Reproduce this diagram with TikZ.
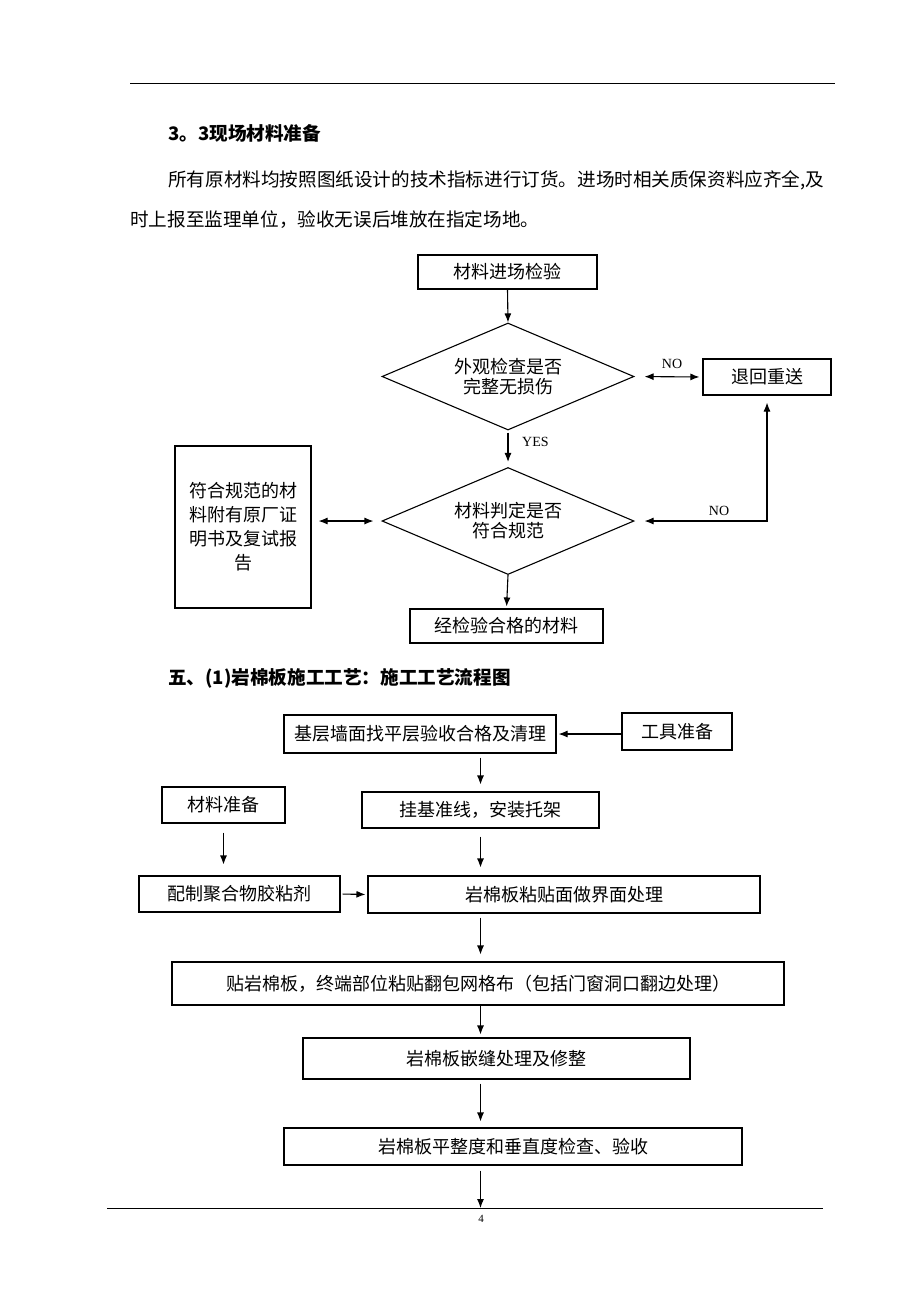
\documentclass[tikz,border=0pt]{standalone}
\usepackage{fontspec}
\setmainfont{Liberation Serif}
\newfontfamily\cjk{Noto Sans CJK SC}
\usetikzlibrary{shapes.geometric,arrows.meta}
\begin{document}
\begin{tikzpicture}[x=1pt,y=-1pt,
  box/.style={draw,line width=1.1pt,inner sep=0pt,font=\cjk\fontsize{18}{24}\selectfont,align=center},
  dia/.style={draw,line width=1.1pt,diamond,aspect=2.35,inner sep=0pt,minimum width=252pt,minimum height=107pt,font=\cjk\fontsize{18}{20}\selectfont,align=center},
  arr/.style={line width=1.1pt,-{Latex[length=9pt,width=7pt]}},
  darr/.style={line width=1.1pt,{Latex[length=9pt,width=7pt]}-{Latex[length=9pt,width=7pt]}},
  txt/.style={inner sep=0pt,anchor=west,font=\cjk\fontsize{18.6}{20}\selectfont},
  lbl/.style={inner sep=0pt,font=\fontsize{14}{16}\selectfont},
  rule/.style={line width=1pt}
]
\useasboundingbox[fill=white] (0,0) rectangle (920,1302);
% page rules
\coordinate (tl) at (130,83); \coordinate (tr) at (835,83);
\draw[rule] (tl) -- (tr);
\coordinate (bl) at (107,1208); \coordinate (br) at (823,1208);
\draw[rule] (bl) -- (br);
\node[inner sep=0pt,font=\fontsize{11}{12}\selectfont] (pg) at (481,1219) {4};

% text
\node[txt,font=\cjk\bfseries\fontsize{18.6}{20}\selectfont] (h1) at (168,133) {3。3现场材料准备};
\node[txt] (p1) at (168,180) {所有原材料均按照图纸设计的技术指标进行订货。进场时相关质保资料应齐全,及};
\node[txt] (p2) at (130,220) {时上报至监理单位，验收无误后堆放在指定场地。};

% chart 1
\node[box,minimum width=179pt,minimum height=34pt] (b1) at (507.5,272) {材料进场检验};
\node[dia] (d1) at (508,376.5) {外观检查是否\\完整无损伤};
\node[box,minimum width=128pt,minimum height=36pt] (r) at (767,377) {退回重送};
\node[dia] (d2) at (508,521) {材料判定是否\\符合规范};
\node[box,minimum width=136pt,minimum height=162pt] (lb) at (243,527) {符合规范的材\\料附有原厂证\\明书及复试报\\告};
\node[box,minimum width=193pt,minimum height=34pt] (ok) at (506.5,626) {经检验合格的材料};

\draw[arr] (b1.south) -- (d1.north);
\draw[darr,shorten <=10pt,shorten >=3pt] (d1.east) -- (r.west);
\node[lbl] (no1) at (672,364) {NO};
\draw[arr,shorten <=2pt,shorten >=5pt] (d1.south) -- (d2.north);
\node[lbl,anchor=west] (yes) at (522,442) {YES};
\draw[darr,shorten <=7pt,shorten >=8pt] (lb.east |- d2.west) -- (d2.west);
\draw[darr,shorten <=10pt,shorten >=7pt] (d2.east) -| (r.south);
\node[lbl] (no2) at (719,511) {NO};
\draw[arr,shorten >=2pt] (d2.south) -- (ok.north);

% heading 2
\node[txt,font=\cjk\bfseries\fontsize{18.6}{20}\selectfont] (h2) at (168,678) {五、(1)岩棉板施工工艺：施工工艺流程图};

% chart 2
\node[box,minimum width=272pt,minimum height=38pt] (s1) at (420,734) {基层墙面找平层验收合格及清理};
\node[box,minimum width=110pt,minimum height=37pt] (tool) at (677,731.5) {工具准备};
\node[box,minimum width=123pt,minimum height=36pt] (mat) at (223.5,805) {材料准备};
\node[box,minimum width=237pt,minimum height=36pt] (s2) at (480.5,810) {挂基准线，安装托架};
\node[box,minimum width=201pt,minimum height=36pt] (glue) at (239.5,894) {配制聚合物胶粘剂};
\node[box,minimum width=392pt,minimum height=37pt] (s3) at (564,894.5) {岩棉板粘贴面做界面处理};
\node[box,minimum width=612pt,minimum height=43pt] (s4) at (478,983.5) {贴岩棉板，终端部位粘贴翻包网格布（包括门窗洞口翻边处理）};
\node[box,minimum width=387pt,minimum height=41pt] (s5) at (496.5,1058.5) {岩棉板嵌缝处理及修整};
\node[box,minimum width=458pt,minimum height=37pt] (s6) at (513,1146.5) {岩棉板平整度和垂直度检查、验收};
\coordinate (end) at (480.5,1208);

\draw[arr,shorten >=2pt] (tool.west |- s1.east) -- (s1.east);
\draw[arr,shorten <=4pt,shorten >=7pt] (s2.north |- s1.south) -- (s2.north);
\draw[arr,shorten <=9pt,shorten >=11pt] (mat.south) -- (mat.south |- glue.north);
\draw[arr,shorten <=8pt,shorten >=8pt] (s2.south) -- (s2.south |- s3.north);
\draw[arr,shorten <=2pt,shorten >=2pt] (glue.east) -- (s3.west);
\draw[arr,shorten <=4pt,shorten >=7pt] (s2.south |- s3.south) -- (s2.south |- s4.north);
\draw[arr,shorten >=3pt] (s2.south |- s4.south) -- (s2.south |- s5.north);
\draw[arr,shorten <=4pt,shorten >=6pt] (s2.south |- s5.south) -- (s2.south |- s6.north);
\draw[arr,shorten <=5pt] (end |- s6.south) -- (end);
\end{tikzpicture}
\end{document}
